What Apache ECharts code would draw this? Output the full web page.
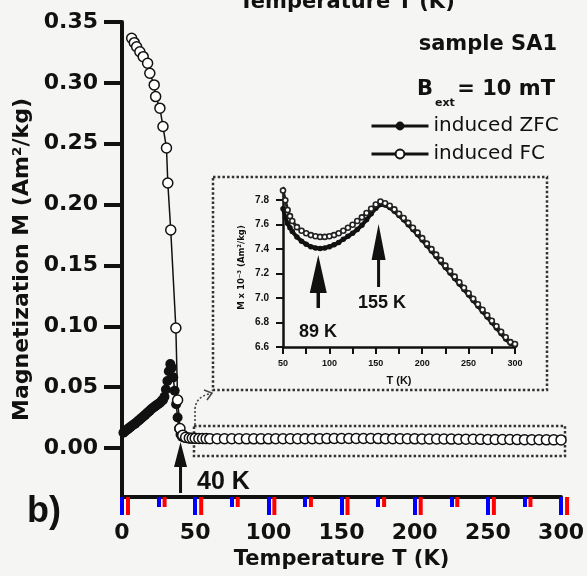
<!DOCTYPE html>
<html><head><meta charset="utf-8">
<script src="https://cdn.jsdelivr.net/npm/echarts@6/dist/echarts.min.js"></script>
<style>html,body{margin:0;padding:0;background:#f5f5f3}#c{width:587px;height:576px}</style>
</head><body><div id="c"></div>
<script>
// ---------- tick values ----------
const mainXTicks = [0, 50, 100, 150, 200, 250, 300];
const mainXMinor = [25, 75, 125, 175, 225, 275];
const mainYTicks = [0, 0.05, 0.10, 0.15, 0.20, 0.25, 0.30, 0.35];
const insetXTicks = [50, 75, 100, 125, 150, 175, 200, 225, 250, 275, 300];
const insetXLabels = [50, 100, 150, 200, 250, 300];
const insetYTicks = [6.6, 6.8, 7.0, 7.2, 7.4, 7.6, 7.8];

// ---------- main plot, low temperature part (M in Am^2/kg) ----------
const fcLowT = [6.6, 8.4, 10, 12.2, 14.5, 17.5, 19, 22, 23, 25.9, 28, 30.4, 31.3, 33.3, 36.8, 38, 39.6, 41.5, 43.5, 46, 48];
const fcLowM = [0.3366, 0.3330, 0.3297, 0.3256, 0.3215, 0.3161, 0.3079, 0.2983, 0.2887, 0.2792, 0.2641, 0.2465, 0.2177, 0.1791, 0.0986, 0.0394, 0.0160, 0.0105, 0.0088, 0.0082, 0.0080];

const zfcLowT = [1, 2, 3, 4, 5, 6, 7, 8, 9, 10, 11, 12, 13, 14, 15, 16, 17, 18, 19, 20, 21, 22, 23, 24, 25, 26, 27, 28, 29, 30, 31, 32, 33, 34, 35, 36, 37, 38, 39, 40, 41, 42.5, 44, 46, 48];
const zfcLowM = [0.0125, 0.0135, 0.0145, 0.0155, 0.0165, 0.0175, 0.0185, 0.0192, 0.0200, 0.0211, 0.0222, 0.0232, 0.0243, 0.0253, 0.0263, 0.0274, 0.0285, 0.0296, 0.0307, 0.0318, 0.0328, 0.0337, 0.0346, 0.0355, 0.0363, 0.0372, 0.0385, 0.0395, 0.0420, 0.0480, 0.0550, 0.0630, 0.0690, 0.0660, 0.0580, 0.0470, 0.0360, 0.0250, 0.0160, 0.0110, 0.0092, 0.0085, 0.0080, 0.0078, 0.0077];

// ---------- inset (M x 10^-3 Am^2/kg), 50-300 K ----------
const insetT = [50, 52.5, 55, 57.5, 60, 65, 70, 75, 80, 85, 90, 95, 100, 105, 110, 115, 120, 125, 130, 135, 140, 145, 150, 155, 160, 165, 170, 175, 180, 185, 190, 195, 200, 205, 210, 215, 220, 225, 230, 235, 240, 245, 250, 255, 260, 265, 270, 275, 280, 285, 290, 295, 300];
const fcInset = [7.88, 7.80, 7.72, 7.67, 7.63, 7.58, 7.55, 7.53, 7.515, 7.505, 7.50, 7.50, 7.505, 7.515, 7.53, 7.55, 7.575, 7.60, 7.63, 7.66, 7.695, 7.73, 7.765, 7.79, 7.775, 7.755, 7.725, 7.69, 7.655, 7.615, 7.575, 7.535, 7.49, 7.445, 7.40, 7.355, 7.31, 7.265, 7.22, 7.175, 7.13, 7.085, 7.04, 6.995, 6.95, 6.905, 6.86, 6.815, 6.77, 6.725, 6.68, 6.64, 6.625];
const zfcInset = [7.73, 7.66, 7.61, 7.575, 7.545, 7.50, 7.465, 7.44, 7.42, 7.41, 7.405, 7.41, 7.42, 7.435, 7.455, 7.48, 7.505, 7.53, 7.56, 7.595, 7.64, 7.69, 7.735, 7.765, 7.76, 7.74, 7.71, 7.675, 7.64, 7.60, 7.56, 7.52, 7.475, 7.43, 7.385, 7.34, 7.295, 7.25, 7.205, 7.16, 7.115, 7.07, 7.025, 6.98, 6.935, 6.89, 6.845, 6.80, 6.755, 6.71, 6.665, 6.63, 6.615];

const ink = '#111';
const DJ = 'DejaVu Sans';
const LB = 'Liberation Sans';
const yMinMain = -0.0403;

const pair = (xs, ys, k) => xs.map((x, i) => [x, ys[i] * (k || 1)]);
const zfcMain = pair(zfcLowT, zfcLowM).concat(pair(insetT, zfcInset, 1e-3));
const fcMain = pair(fcLowT, fcLowM).concat(pair(insetT, fcInset, 1e-3));

const chart = echarts.init(document.getElementById('c'), null, {renderer: 'canvas'});

const option = {
  backgroundColor: '#f5f5f3',
  animation: false,
  grid: [
    {left: 122, right: 24, top: 22, bottom: 79},
    {left: 283, right: 72, top: 188, bottom: 229}
  ],
  legend: {
    data: ['induced ZFC', 'induced FC'],
    orient: 'vertical', left: 365, top: 111,
    itemWidth: 57, itemHeight: 11, itemGap: 8,
    selectedMode: false,
    lineStyle: {width: 3},
    textStyle: {fontFamily: DJ, fontSize: 20, color: ink}
  },
  xAxis: [
    {
      gridIndex: 0, type: 'value', min: 0, max: 300, interval: 50,
      name: 'Temperature T (K)', nameLocation: 'middle', nameGap: 52,
      nameTextStyle: {fontFamily: DJ, fontWeight: 'bold', fontSize: 21, color: ink},
      axisLine: {onZero: false, lineStyle: {color: ink, width: 4}},
      axisTick: {show: true, length: 18, lineStyle: {color: 'blue', width: 4}},
      minorTick: {show: true, splitNumber: 2, length: 10, lineStyle: {color: 'blue', width: 4}},
      splitLine: {show: false}, minorSplitLine: {show: false},
      axisLabel: {margin: 25, fontFamily: DJ, fontWeight: 'bold', fontSize: 22, color: ink}
    },
    {
      gridIndex: 1, type: 'value', min: 50, max: 300,
      name: 'T (K)', nameLocation: 'middle', nameGap: 28,
      nameTextStyle: {fontFamily: LB, fontWeight: 'bold', fontSize: 11, color: ink},
      axisLine: {onZero: false, lineStyle: {color: ink, width: 2.5}},
      axisTick: {customValues: insetXTicks, length: 7, lineStyle: {color: ink, width: 2}},
      splitLine: {show: false},
      axisLabel: {customValues: insetXLabels, margin: 12, fontFamily: LB, fontWeight: 'bold', fontSize: 9, color: ink}
    }
  ],
  yAxis: [
    {
      gridIndex: 0, type: 'value', min: yMinMain, max: 0.35,
      name: 'Magnetization M (Am²/kg)', nameLocation: 'middle', nameGap: 84,
      nameTextStyle: {fontFamily: DJ, fontWeight: 'bold', fontSize: 22, color: ink},
      axisLine: {onZero: false, lineStyle: {color: ink, width: 4}},
      axisTick: {customValues: mainYTicks, length: 18, lineStyle: {color: ink, width: 4}},
      splitLine: {show: false},
      axisLabel: {customValues: mainYTicks, margin: 24, fontFamily: DJ, fontWeight: 'bold', fontSize: 22, color: ink,
        formatter: v => v.toFixed(2)}
    },
    {
      gridIndex: 1, type: 'value', min: 6.6, max: 7.9,
      name: 'M x 10⁻³ (Am²/kg)', nameLocation: 'middle', nameGap: 37,
      nameTextStyle: {fontFamily: DJ, fontWeight: 'bold', fontSize: 8.5, color: ink},
      axisLine: {onZero: false, lineStyle: {color: ink, width: 2.5}},
      axisTick: {customValues: insetYTicks, length: 7, lineStyle: {color: ink, width: 2}},
      splitLine: {show: false},
      axisLabel: {customValues: insetYTicks, margin: 14, fontFamily: LB, fontWeight: 'bold', fontSize: 10, color: ink,
        formatter: v => v.toFixed(1)}
    }
  ],
  series: [
    {
      name: 'induced ZFC', type: 'line', xAxisIndex: 0, yAxisIndex: 0, data: zfcMain,
      symbol: 'circle', symbolSize: 10, silent: true, z: 2,
      itemStyle: {color: ink},
      lineStyle: {color: ink, width: 1.5}
    },
    {
      name: 'induced FC', type: 'line', xAxisIndex: 0, yAxisIndex: 0, data: fcMain,
      symbol: 'circle', symbolSize: 10, silent: true, z: 3,
      itemStyle: {color: '#fff', borderColor: ink, borderWidth: 1.5},
      lineStyle: {color: ink, width: 1.5}
    },
    {
      name: 'induced ZFC', type: 'line', xAxisIndex: 1, yAxisIndex: 1, data: pair(insetT, zfcInset),
      symbol: 'circle', symbolSize: 5.5, silent: true, z: 2,
      itemStyle: {color: ink},
      lineStyle: {color: ink, width: 4}
    },
    {
      name: 'induced FC', type: 'line', xAxisIndex: 1, yAxisIndex: 1, data: pair(insetT, fcInset),
      symbol: 'circle', symbolSize: 5, silent: true, z: 3,
      itemStyle: {color: '#fff', borderColor: '#222', borderWidth: 1.6},
      lineStyle: {color: '#222', width: 3}
    }
  ]
};
chart.setOption(option);

// ---------- annotations ----------
function arrow(x, tipY, headLen, headW, shaftW, tailY) {
  return {
    type: 'polygon', silent: true, z: 20,
    shape: {points: [[x, tipY], [x + headW / 2, tipY + headLen], [x + shaftW / 2, tipY + headLen], [x + shaftW / 2, tailY],
      [x - shaftW / 2, tailY], [x - shaftW / 2, tipY + headLen], [x - headW / 2, tipY + headLen]]},
    style: {fill: ink}
  };
}
function txt(x, y, text, font, size, weight, align) {
  return {type: 'text', x: x, y: y, silent: true, z: 30,
    style: {text: text, fontFamily: font, fontSize: size, fontWeight: weight || 'bold', fill: ink,
      align: align || 'left', verticalAlign: 'middle'}};
}
function tick(v, len) {
  const p = chart.convertToPixel({gridIndex: 0}, [v, yMinMain]);
  return {type: 'line', silent: true, z: 25,
    shape: {x1: p[0] + 6, y1: p[1], x2: p[0] + 6, y2: p[1] + len},
    style: {stroke: 'red', lineWidth: 4}};
}
const a40 = chart.convertToPixel({gridIndex: 0}, [40, 0]);
const a89 = chart.convertToPixel({gridIndex: 1}, [88, 7.4]);
const a155 = chart.convertToPixel({gridIndex: 1}, [153, 7.4]);
const dotted = {stroke: '#333', lineWidth: 2.5, lineDash: [2.5, 2.2], fill: null};

chart.setOption({
  graphic: [
    txt(347, 3, 'Temperature T (K)', DJ, 21, 'bold', 'center'),
    txt(557, 45, 'sample SA1', DJ, 21, 'bold', 'right'),
    txt(417, 90, 'B', DJ, 21, 'bold', 'left'),
    txt(435, 103, 'ext', DJ, 11, 'bold', 'left'),
    txt(555, 90, '= 10 mT', DJ, 21, 'bold', 'right'),
    txt(27, 512, 'b)', LB, 36, 'bold', 'left'),
    txt(197, 482, '40 K', LB, 25, 'bold', 'left'),
    txt(318, 332, '89 K', LB, 18, 'bold', 'center'),
    txt(382, 303, '155 K', LB, 18, 'bold', 'center'),
    arrow(a40[0], 442, 25, 13, 3, 493),
    arrow(a89[0], 255, 38, 17, 3.5, 308),
    arrow(a155[0], 224, 36, 14, 3, 287),
    {type: 'rect', silent: true, z: 1, shape: {x: 213, y: 177, width: 334, height: 213}, style: dotted},
    {type: 'rect', silent: true, z: 1, shape: {x: 194, y: 426, width: 371, height: 30}, style: dotted},
    {type: 'line', silent: true, z: 1,
      shape: {x1: 195, y1: 425, x2: 195, y2: 409},
      style: {stroke: '#444', lineWidth: 1.6, lineDash: [2, 2]}},
    {type: 'bezierCurve', silent: true, z: 1,
      shape: {x1: 195, y1: 409, x2: 209, y2: 394, cpx1: 196, cpy1: 397},
      style: {stroke: '#444', lineWidth: 1.6, lineDash: [2, 2], fill: null}},
    {type: 'polyline', silent: true, z: 1,
      shape: {points: [[204, 390], [212, 393], [207, 400]]},
      style: {stroke: '#444', lineWidth: 1.5, fill: null}}
  ].concat(mainXTicks.map(v => tick(v, 18)), mainXMinor.map(v => tick(v, 10)))
});
</script>
</body></html>
